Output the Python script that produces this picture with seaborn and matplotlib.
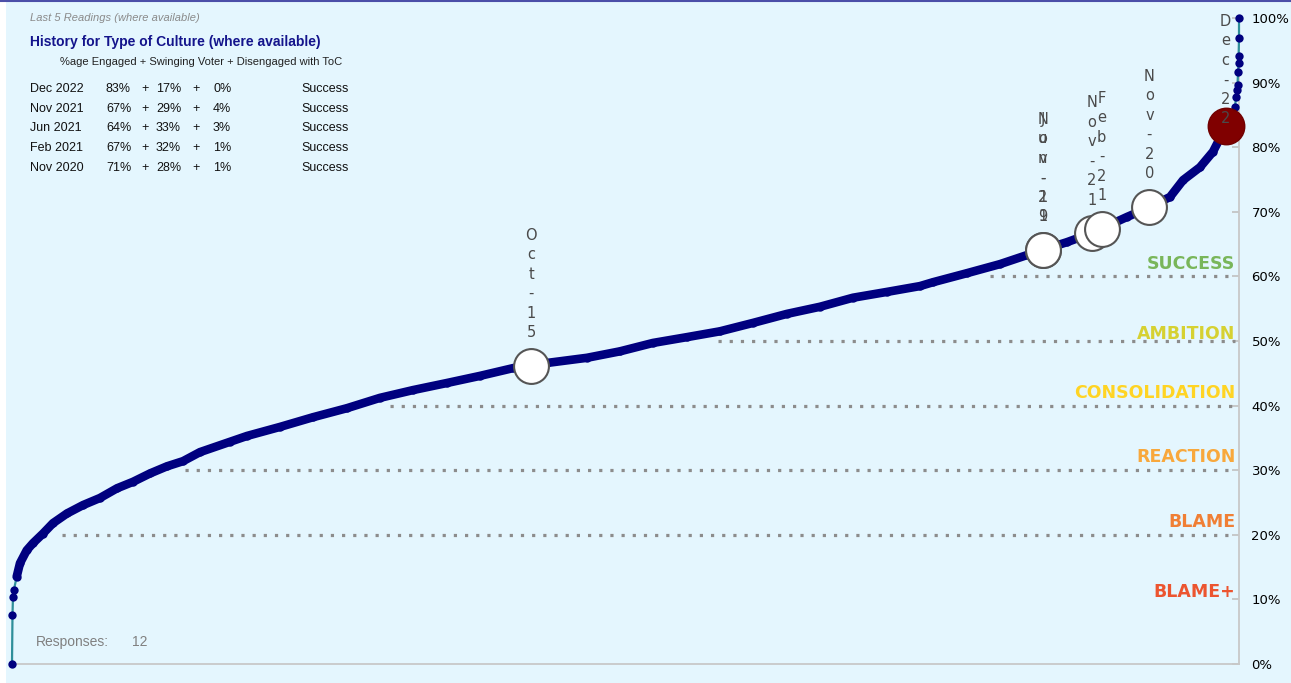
import numpy as np
import pandas as pd
import matplotlib
matplotlib.use("Agg")
import matplotlib.pyplot as plt
import seaborn as sns
from matplotlib.patches import Rectangle
from matplotlib.lines import Line2D

# ---------------- data ----------------
# sorted distribution of respondents: position (% of respondents) vs ToC score (%)
rank_pct = [0.0, 0.04, 0.08, 0.16, 0.38, 0.65, 1.2, 1.71, 2.53, 3.34, 4.48, 5.79, 7.17, 8.56,
            9.86, 11.25, 12.63, 13.94, 15.32, 17.77, 19.15, 21.84, 24.53, 27.30, 29.99, 32.68,
            35.45, 38.14, 40.83, 43.60, 46.86, 49.55, 52.24, 55.01, 57.70, 60.39, 63.16, 65.85,
            68.54, 71.31, 74.00, 75.06, 77.83, 80.52, 82.72, 84.0, 85.98, 88.0, 88.8, 90.87,
            92.7, 94.38, 95.44, 96.82, 97.88, 98.61, 99.51, 99.67, 99.76, 99.84, 99.88, 99.92,
            99.96, 99.97, 100.0, 100.0]
culture_pct = [0.0, 7.6, 10.4, 11.5, 13.5, 15.6, 17.6, 18.7, 20.2, 21.8, 23.3, 24.6, 25.7, 27.2,
               28.2, 29.5, 30.6, 31.4, 32.8, 34.4, 35.3, 36.7, 38.2, 39.6, 41.2, 42.4,
               43.5, 44.6, 45.8, 46.6, 47.4, 48.4, 49.7, 50.6, 51.5, 52.8, 54.2, 55.3,
               56.7, 57.6, 58.5, 59.1, 60.5, 61.9, 63.3, 64.1, 65.3, 66.7, 67.4, 69.2,
               70.7, 72.3, 74.9, 76.9, 79.3, 82.0, 85.0, 86.2, 87.8, 88.8, 89.6, 91.6,
               93.0, 94.1, 96.9, 100.0]

# organisation readings shown as big circles
reading_dates = ["Oct-15", "Nov-19", "Jun-21", "Nov-21", "Feb-21", "Nov-20", "Dec-22"]
reading_rank = [42.3, 84.0, 84.0, 88.0, 88.8, 92.7, 98.9]
reading_value = [46.2, 64.1, 64.1, 66.7, 67.4, 70.8, 83.3]
latest_reading = "Dec-22"

# history table
history_dates = ["Dec 2022", "Nov 2021", "Jun 2021", "Feb 2021", "Nov 2020"]
engaged = [83, 67, 64, 67, 71]
swinging = [17, 29, 33, 32, 28]
disengaged = [0, 4, 3, 1, 1]
history_result = ["Success", "Success", "Success", "Success", "Success"]

# culture zones
zone_names = ["BLAME+", "BLAME", "REACTION", "CONSOLIDATION", "AMBITION", "SUCCESS"]
zone_floor = [10, 20, 30, 40, 50, 60]
yticks = list(range(0, 101, 10))
responses = 12

# ---------------- styling ----------------
W, H = 1291, 683
BG = "#e4f6fe"
NAVY = "#00007f"
TEAL = "#2f8f9a"
zone_colors = ["#ec5530", "#f07f35", "#f8a83c", "#ffd424", "#d6d132", "#79b65a"]
zone_label_lift = [0.4, 1.2, 1.3, 1.2, 0.3, 1.1]
zone_line_start = [None, 4.1, 14.1, 30.8, 57.5, 79.7]

sns.set_theme(style="white")
plt.rcParams['font.family'] = ['DejaVu Sans']

fig = plt.figure(figsize=(W / 100, H / 100), dpi=100)
fig.patch.set_facecolor("white")
fig.patches.append(Rectangle((6 / W, 0), 1, 1, transform=fig.transFigure,
                             facecolor=BG, edgecolor="none", zorder=-10))
fig.add_artist(Line2D([0, 1], [1 - 0.8 / H] * 2, transform=fig.transFigure,
                      color="#4b4fa8", lw=1.5))

ax = fig.add_axes([12 / W, 19 / H, 1227 / W, 646 / H])
ax.set_facecolor("none")

# zone dotted lines
for fl, st in zip(zone_floor, zone_line_start):
    if st is not None:
        ax.hlines(fl, st, 99.7, colors="#8c8c8c", linewidth=2.3,
                  linestyles=[(0, (1, 2.5))], zorder=2)

# zone labels
for name, fl, c, lift in zip(zone_names, zone_floor, zone_colors, zone_label_lift):
    ax.text(99.7, fl + lift, name, ha="right", va="baseline", fontsize=12.5,
            fontweight="bold", color=c, zorder=3)

# curve
df = pd.DataFrame({"rank": rank_pct, "value": culture_pct})
sns.lineplot(data=df, x="rank", y="value", ax=ax, color=TEAL, lw=1.6,
             estimator=None, sort=False, zorder=3)
dense = df[(df["value"] >= 13) & (df["value"] <= 86)]
sns.lineplot(data=dense, x="rank", y="value", ax=ax, color=NAVY, lw=6.2,
             estimator=None, sort=False, zorder=4)
sns.scatterplot(data=df, x="rank", y="value", ax=ax, color=NAVY, s=36,
                edgecolor=NAVY, linewidth=0, zorder=5)

# reading circles
rd = pd.DataFrame({"date": reading_dates, "rank": reading_rank, "value": reading_value})
for _, r in rd.iterrows():
    if r["date"] == latest_reading:
        ax.scatter([r["rank"]], [r["value"]], s=690, color="#800000",
                   edgecolor="#700000", linewidth=1, zorder=6, clip_on=False)
        base = 7
    else:
        ax.scatter([r["rank"]], [r["value"]], s=630, color="white",
                   edgecolor="#555555", linewidth=1.5, zorder=6, clip_on=False)
        base = 33
    chars = list(r["date"])
    n = len(chars)
    for i, ch in enumerate(chars):
        dy = base + (n - 1 - i) * 19.5
        ax.annotate(ch, (r["rank"], r["value"]), xytext=(0, dy),
                    textcoords="offset pixels", ha="center", va="center",
                    fontsize=10.5, color="#4a4a4a", zorder=7, annotation_clip=False)

for art in ax.lines + ax.collections:
    art.set_clip_on(False)

ax.set_xlim(0, 100)
ax.set_ylim(0, 100)
ax.set_xlabel("")
ax.set_ylabel("")
ax.set_xticks([])
ax.yaxis.tick_right()
ax.set_yticks(yticks)
ax.set_yticklabels([f"{v}%" for v in yticks])
ax.tick_params(axis="y", direction="in", length=5, color="#c0c0c0", width=1.2,
               pad=9, labelsize=9.5, labelcolor="black")
for s in ["left", "top"]:
    ax.spines[s].set_visible(False)
for s in ["right", "bottom"]:
    ax.spines[s].set_visible(True)
    ax.spines[s].set_color("#c8c8c8")
    ax.spines[s].set_linewidth(1.3)

# ---------------- text block ----------------
def fx(x):
    return x / W

def fy(y):
    return 1 - y / H

LIB = ["Liberation Sans", "DejaVu Sans"]
fig.text(fx(30), fy(18), "Last 5 Readings (where available)", fontsize=8,
         style="italic", color="#8a8a8a", va="center", family=LIB)
fig.text(fx(30), fy(42), "History for Type of Culture (where available)", fontsize=10,
         fontweight="bold", color="#14148c", va="center", family=LIB)
fig.text(fx(60), fy(62), "%age Engaged + Swinging Voter + Disengaged with ToC",
         fontsize=8, color="#222222", va="center", family=LIB)
for i, (d, e, sw, di, res) in enumerate(zip(history_dates, engaged, swinging,
                                             disengaged, history_result)):
    y = 89 + i * 19.7
    kw = dict(fontsize=9, color="#111111", va="center", family=LIB)
    fig.text(fx(30), fy(y), d, **kw)
    fig.text(fx(106), fy(y), f"{e}%", **kw)
    fig.text(fx(145), fy(y), "+", ha="center", **kw)
    fig.text(fx(156), fy(y), f"{sw}%", **kw)
    fig.text(fx(196), fy(y), "+", ha="center", **kw)
    fig.text(fx(213), fy(y), f"{di}%", **kw)
    fig.text(fx(301), fy(y), res, **kw)

fig.text(fx(36), fy(642), "Responses:", fontsize=10, color="#808080", va="center", family=LIB)
fig.text(fx(132), fy(642), f"{responses}", fontsize=10, color="#808080", va="center", family=LIB)

fig.savefig("out.png", dpi=100, facecolor=fig.get_facecolor())
